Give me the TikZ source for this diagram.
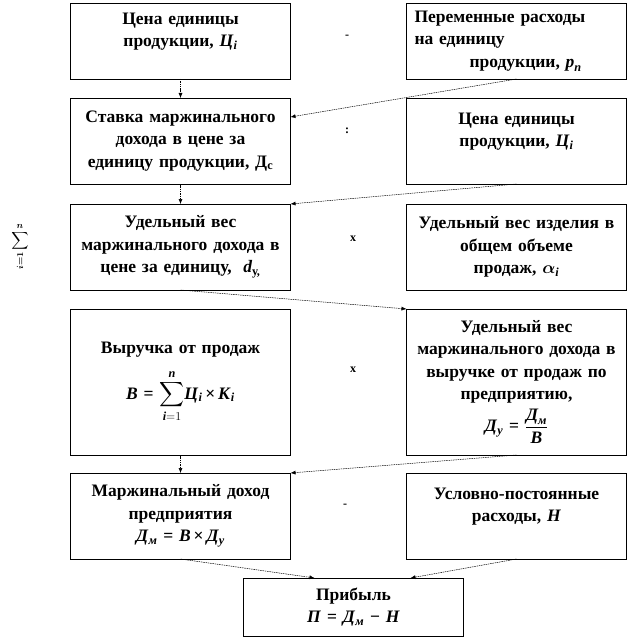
\documentclass[tikz,border=0pt]{standalone}
\usepackage{amsmath}
\usepackage{graphicx}
\usepackage{fontspec}
\setmainfont{Liberation Serif}
\usetikzlibrary{positioning,arrows.meta}
\newcommand{\ivar}[1]{\text{\itshape #1}}
\tikzset{cell/.style={draw=black, line width=0.8pt, inner xsep=3pt, inner ysep=0pt, outer sep=0pt, text width=214pt, align=center, font=\bfseries\fontsize{17.5}{22.5}\selectfont},
op/.style={inner sep=0pt, font=\bfseries\fontsize{12}{12}\selectfont},
link/.style={-{Latex[length=5pt,width=4pt]}, line width=0.5pt, dash pattern=on 1.5pt off 0.8pt},}

\begin{document}
\begin{tikzpicture}[x=1pt, y=-1pt]
\useasboundingbox (0,0) rectangle (630,639);
% left and right columns
\node [cell, minimum height=76pt] (l1) at (180.5,41) {Цена единицы\\продукции, \textit{Ц}$_{\ivar{i}}$\\\mbox{}};
\node [cell, minimum height=76pt, align=left] (r1) [right=116pt of l1] {\hspace*{5pt}Переменные расходы\\\hspace*{5pt}на единицу\\\hspace*{60pt}продукции, $\ivar{p}_{\ivar{п}}$};
\node [cell, minimum height=86pt] (l2) [below=19pt of l1] {Ставка маржинального\\дохода в цене за\\единицу продукции, Д$_{\text{с}}$};
\node [cell, minimum height=86pt] (r2) [right=116pt of l2] {Цена единицы\\продукции, \textit{Ц}$_{\ivar{i}}$\\\mbox{}};
\node [cell, minimum height=86pt] (l3) [below=20pt of l2] {Удельный вес\\маржинального дохода в\\цене за единицу,\ \ $\ivar{d}_{\text{у,}}$};
\node [cell, minimum height=86pt] (r3) [right=116pt of l3] {Удельный вес изделия в\\общем объеме\\продаж, $\boldsymbol{\alpha}_{\ivar{i}}$};
\node [cell, minimum height=146pt] (l4) [below=19pt of l3] {Выручка от продаж\\[12pt]\textit{В} = $\displaystyle\sum_{\ivar{i}=1}^{\ivar{n}}$\textit{Ц}$_{\ivar{i}}$\,×\,\textit{К}$_{\ivar{i}}$};
\node [cell, minimum height=146pt] (r4) [right=116pt of l4] {Удельный вес\\маржинального дохода в\\выручке от продаж по\\предприятию,\\[4pt]\textit{Д}$_{\ivar{у}}$ = $\dfrac{\ivar{Д}_{\ivar{м}}}{\ivar{В}}$};
\node [cell, minimum height=86pt] (l5) [below=18pt of l4] {Маржинальный доход\\предприятия\\\textit{Д}$_{\ivar{м}}$ = \textit{В}\,×\,\textit{Д}$_{\ivar{у}}$};
\node [cell, minimum height=86pt] (r5) [right=116pt of l5] {Условно-постоянные\\расходы, \textit{Н}\\\mbox{}};
\node [cell, minimum height=58pt] (p) at (353.5,607) {Прибыль\\\textit{П} = \textit{Д}$_{\ivar{м}}$ − \textit{Н}};
% operations between columns
\node [op] (o1) at (347,37) {-};
\node [op] (o2) at (347,131) {:};
\node [op] (o3) at (353,239) {х};
\node [op] (o4) at (353,370) {х};
\node [op] (o5) at (345,506) {-};
\node [op, font=\bfseries\boldmath\fontsize{13}{13}\selectfont] (sum) at (20,247) {$\displaystyle\sum_{\rotatebox{90}{$\scriptstyle i=1$}}^{n}$};
% links
\draw[link] (l1) -- (l2);
\draw[link] (r1.south) -- ([yshift=-19pt]l2.north east);
\draw[link] (l2) -- (l3);
\draw[link] (r2.south) -- (l3.north east);
\draw[link] (l3.south) -- (r4.north west);
\draw[link] (l4) -- (l5);
\draw[link] (r4.south) -- (l5.north east);
\draw[link] (l5.south) -- ([xshift=-39pt]p.north);
\draw[link] (r5.south) -- ([xshift=57pt]p.north);
\end{tikzpicture}
\end{document}
